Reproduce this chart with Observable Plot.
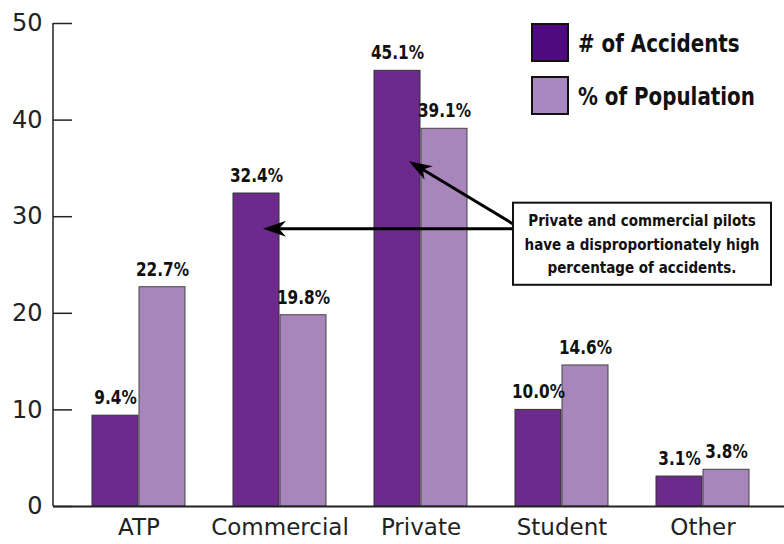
<!DOCTYPE html>
<html>
<head>
<meta charset="utf-8">
<script src="https://cdn.jsdelivr.net/npm/d3@7"></script>
<script src="https://cdn.jsdelivr.net/npm/@observablehq/plot@0.6"></script>
<style>
  html, body { margin: 0; padding: 0; background: #fff; }
  #chart { width: 784px; height: 544px; }
</style>
</head>
<body>
<div id="chart"></div>
<script>
// ---- data ----
const categories = ["ATP", "Commercial", "Private", "Student", "Other"];
const accidents = [9.4, 32.4, 45.1, 10.0, 3.1];     // # of Accidents (%)
const population = [22.7, 19.8, 39.1, 14.6, 3.8];  // % of Population
const seriesNames = ["# of Accidents", "% of Population"];
const yTicks = [0, 10, 20, 30, 40, 50];
const noteLines = [
  "Private and commercial pilots",
  "have a disproportionately high",
  "percentage of accidents."
];
// arrow targets (category, value on y axis)
const arrowTargets = [
  {category: "Commercial", y: 28.7, startY: 28.7},
  {category: "Private", y: 35.7, startY: 29.2}
];

// ---- styles ----
const barColors = ["#6b2a8c", "#a886bb"];
const legendColors = ["#4e0a7e", "#a987c0"];
const lightFont = "'DejaVu Sans', sans-serif";
const boldFont = "'DejaVu Sans Condensed', 'Liberation Sans Narrow', sans-serif";

const rows = categories.map((c, i) => ({category: c, accidents: accidents[i], population: population[i]}));

const plot = Plot.plot({
  width: 784,
  height: 544,
  marginLeft: 53,
  marginRight: 0,
  marginTop: 23,
  marginBottom: 38,
  style: {fontFamily: lightFont, color: "#222", background: "#fff"},
  x: {domain: categories, paddingInner: 0.338, paddingOuter: 0, insetLeft: 37, insetRight: 32, label: null},
  y: {domain: [0, 50], label: null},
  marks: [
    Plot.barY(rows, {x: "category", y: "accidents", fill: barColors[0], stroke: "#333", strokeWidth: 1, insetRight: 47}),
    Plot.barY(rows, {x: "category", y: "population", fill: barColors[1], stroke: "#444", strokeWidth: 1, insetLeft: 47}),
    Plot.text(rows, {x: "category", y: "accidents", text: d => d.accidents.toFixed(1) + "%", dx: -23.5, dy: -18,
      fontFamily: boldFont, fontWeight: "bold", fontSize: 20, fill: "#111", className: "vlabel"}),
    Plot.text(rows, {x: "category", y: "population", text: d => d.population.toFixed(1) + "%", dx: 23.5, dy: -18,
      fontFamily: boldFont, fontWeight: "bold", fontSize: 20, fill: "#111", className: "vlabel"}),
    Plot.axisY({ticks: yTicks, tickSize: -19, tickPadding: 30, fontSize: 24, fontFamily: lightFont,
      stroke: "#222", strokeWidth: 1.5, fill: "#222", label: null}),
    Plot.axisX({tickSize: 0, tickPadding: 12, fontSize: 23, fontFamily: lightFont, fill: "#222", label: null}),
    Plot.ruleY([0], {stroke: "#222", strokeWidth: 2})
  ]
});

document.getElementById("chart").appendChild(plot);

// ---- annotations drawn with the plot's scales ----
const xs = plot.scale("x");
const ys = plot.scale("y");
const svg = d3.select(plot);

// condense the bold labels horizontally (narrow face not available)
function condense(sel, k) {
  sel.each(function() {
    const w = this.getComputedTextLength();
    d3.select(this).attr("textLength", w * k).attr("lengthAdjust", "spacingAndGlyphs");
  });
}
condense(svg.selectAll(".vlabel text"), 0.85);

// y axis line
svg.append("line").attr("x1", 53).attr("x2", 53)
  .attr("y1", ys.apply(0)).attr("y2", ys.apply(50))
  .attr("stroke", "#222").attr("stroke-width", 1.5);

// legend
const legend = svg.append("g").attr("transform", "translate(532,24)");
seriesNames.forEach((name, i) => {
  const g = legend.append("g").attr("transform", `translate(0,${i * 53})`);
  g.append("rect").attr("x", 0).attr("y", 0).attr("width", 36).attr("height", 37)
    .attr("fill", legendColors[i]).attr("stroke", "#111").attr("stroke-width", 2);
  const t = g.append("text").attr("x", 46).attr("y", 19).attr("dy", "0.36em").attr("text-anchor", "start")
    .attr("font-family", boldFont).attr("font-weight", "bold").attr("font-size", 24)
    .attr("fill", "#111").text(name);
  condense(t, 0.92);
});

// note box
const boxLeft = xs.apply("Student") - 2;
const boxTop = ys.apply(31.4);
const boxBottom = ys.apply(22.9);
const boxW = 258;

// arrows
const arrows = svg.append("g");
arrowTargets.forEach(a => {
  const tx = xs.apply(a.category) + (a.category === "Commercial" ? 30 : 35);
  const ty = ys.apply(a.y);
  const sx = boxLeft;
  const sy = ys.apply(a.startY);
  const ang = Math.atan2(ty - sy, tx - sx);
  const L = 23, W = 8;
  arrows.append("line").attr("x1", sx).attr("y1", sy)
    .attr("x2", tx - Math.cos(ang) * (L * 0.7)).attr("y2", ty - Math.sin(ang) * (L * 0.7))
    .attr("stroke", "#000").attr("stroke-width", 3);
  const pts = [[0, 0], [-L, -W], [-L * 0.7, 0], [-L, W]]
    .map(([px, py]) => [tx + px * Math.cos(ang) - py * Math.sin(ang), ty + px * Math.sin(ang) + py * Math.cos(ang)]);
  arrows.append("path").attr("d", "M" + pts.map(p => p.join(",")).join("L") + "Z").attr("fill", "#000");
});

const note = svg.append("g");
note.append("rect").attr("x", boxLeft).attr("y", boxTop).attr("width", boxW).attr("height", boxBottom - boxTop)
  .attr("fill", "#fff").attr("stroke", "#111").attr("stroke-width", 2);
noteLines.forEach((line, i) => {
  note.append("text").attr("x", boxLeft + boxW / 2).attr("y", boxTop + 18 + i * 23.5).attr("dy", "0.36em")
    .attr("text-anchor", "middle").attr("font-family", boldFont).attr("font-weight", "bold").attr("font-size", 15)
    .attr("fill", "#111").text(line);
});
</script>
</body>
</html>
